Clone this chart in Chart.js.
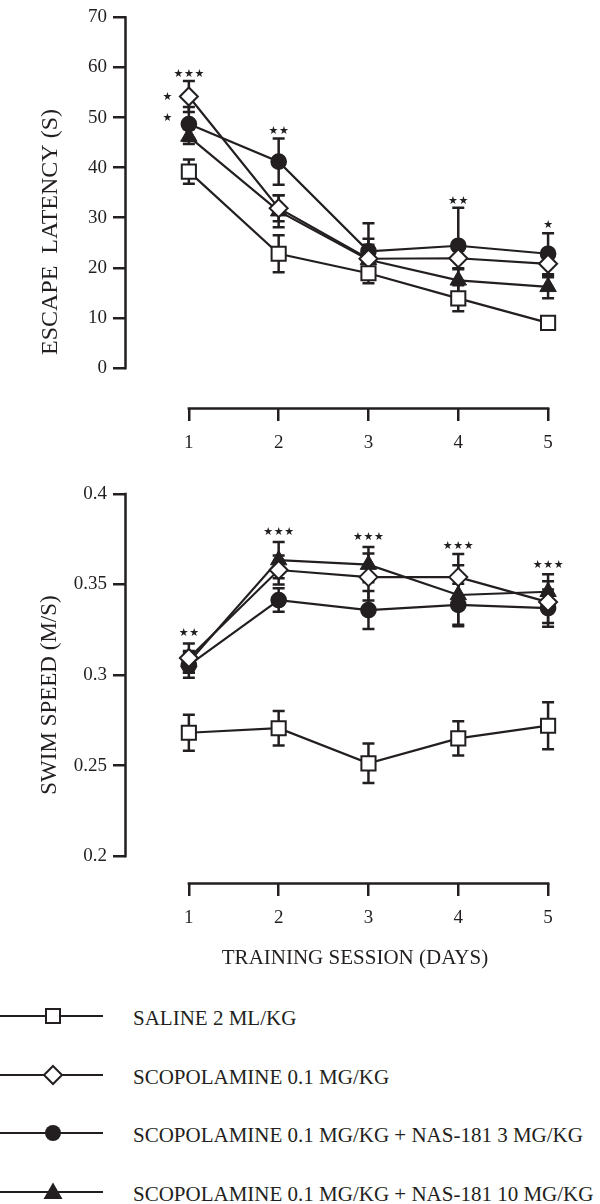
<!DOCTYPE html>
<html><head><meta charset="utf-8">
<script src="https://cdn.jsdelivr.net/npm/chart.js@4.4.1/dist/chart.umd.min.js"></script>
<style>
html,body{margin:0;padding:0;background:#fff;}
#wrap{position:relative;width:600px;height:1204px;overflow:hidden;font-family:"Liberation Serif","Times New Roman",serif;color:#231f20;background:#fff;}
canvas{position:absolute;left:0;}
#c1{top:0;} #c2{top:470px;}
.lg{position:absolute;left:0;}
.lt{position:absolute;left:133px;font-size:21px;line-height:24px;white-space:nowrap;}
</style></head><body>
<div id="wrap">
<canvas id="c1" width="600" height="460"></canvas>
<canvas id="c2" width="600" height="520"></canvas>
<div id="legend"></div>
</div>
<script>
// ---------- data ----------
const days = [1, 2, 3, 4, 5];
const seriesNames = [
  'SALINE 2 ML/KG',
  'SCOPOLAMINE 0.1 MG/KG',
  'SCOPOLAMINE 0.1 MG/KG + NAS-181 3 MG/KG',
  'SCOPOLAMINE 0.1 MG/KG + NAS-181 10 MG/KG'
];
// Escape latency (s)
const latSaline   = [39.2, 22.8, 18.9, 13.9, 9.0];
const latSalineE  = [2.4, 3.7, 2.0, 2.6, 0.8];
const latScop     = [54.2, 31.9, 21.8, 21.9, 20.8];
const latScopE    = [3.1, 2.6, 4.0, 2.2, 2.7];
const latNas3     = [48.7, 41.2, 23.3, 24.4, 22.8];
const latNas3E    = [3.4, 4.6, 5.6, 7.6, 4.1];
const latNas10    = [46.2, 31.3, 21.6, 17.5, 16.2];
const latNas10E   = [1.5, 3.2, 3.0, 2.4, 2.3];
const latTicks    = [0, 10, 20, 30, 40, 50, 60, 70];
// Swim speed (m/s)
const spdSaline   = [0.2681, 0.2706, 0.2512, 0.2650, 0.2720];
const spdSalineE  = [0.0099, 0.0095, 0.0109, 0.0095, 0.0130];
const spdScop     = [0.3094, 0.3580, 0.3541, 0.3541, 0.3403];
const spdScopE    = [0.0080, 0.0080, 0.0130, 0.0127, 0.0115];
const spdNas3     = [0.3055, 0.3414, 0.3359, 0.3387, 0.3370];
const spdNas3E    = [0.0070, 0.0065, 0.0105, 0.0117, 0.0103];
const spdNas10    = [0.3072, 0.3635, 0.3610, 0.3442, 0.3460];
const spdNas10E   = [0.0060, 0.0100, 0.0097, 0.0165, 0.0096];
const spdTicks    = [0.2, 0.25, 0.3, 0.35, 0.4];
const spdTickLabels = ['0.2', '0.25', '0.3', '0.35', '0.4'];
// significance stars (position in data units, count)
const latStarX = [1, 0.76, 0.76, 2, 4, 5];
const latStarY = [58.6, 54.0, 49.9, 47.2, 33.4, 28.5];
const latStarN = [3, 1, 1, 2, 2, 1];
const spdStarX = [1, 2, 3, 4, 5];
const spdStarY = [0.3234, 0.3788, 0.3760, 0.3714, 0.3608];
const spdStarN = [2, 3, 3, 3, 3];

// ---------- styling ----------
const INK = '#231f20';
const SERIF = '"Liberation Serif", "Times New Roman", serif';
const styles = [
  {pointStyle: 'rect',     pointRadius: 10,  pointBackgroundColor: '#fff', pointBorderWidth: 2},
  {pointStyle: 'rectRot',  pointRadius: 9,   pointBackgroundColor: '#fff', pointBorderWidth: 2},
  {pointStyle: 'circle',   pointRadius: 7.6, pointBackgroundColor: INK,    pointBorderWidth: 1.5},
  {pointStyle: 'triangle', pointRadius: 9.5, pointBackgroundColor: INK,    pointBorderWidth: 1}
];

function makeDatasets(vals, errs) {
  return vals.map((v, k) => Object.assign({
    label: seriesNames[k],
    data: days.map((d, i) => ({x: d, y: v[i]})),
    errors: errs[k],
    borderColor: INK,
    borderWidth: 2.2,
    pointBorderColor: INK,
    pointHoverRadius: 0,
    tension: 0,
    clip: false
  }, styles[k]));
}

// ---------- plugins ----------
const errorBars = {
  id: 'errorBars',
  beforeDatasetsDraw(chart) {
    const {ctx} = chart; const x = chart.scales.x, y = chart.scales.y;
    ctx.save();
    ctx.strokeStyle = INK; ctx.lineWidth = 2.5;
    chart.data.datasets.forEach(ds => {
      (ds.errors || []).forEach((e, i) => {
        const p = ds.data[i];
        const px = x.getPixelForValue(p.x);
        const yt = y.getPixelForValue(p.y + e), yb = y.getPixelForValue(p.y - e);
        ctx.beginPath();
        ctx.moveTo(px, yt); ctx.lineTo(px, yb);
        ctx.moveTo(px - 6, yt); ctx.lineTo(px + 6, yt);
        ctx.moveTo(px - 6, yb); ctx.lineTo(px + 6, yb);
        ctx.stroke();
      });
    });
    ctx.restore();
  }
};
const axisLines = {
  id: 'axisLines',
  afterDraw(chart) {
    const {ctx, chartArea} = chart; const x = chart.scales.x, y = chart.scales.y;
    ctx.save();
    ctx.strokeStyle = INK; ctx.lineWidth = 2.5;
    const yt = y.ticks, xt = x.ticks;
    const y0 = y.getPixelForValue(yt[0].value), y1 = y.getPixelForValue(yt[yt.length - 1].value);
    const x0 = x.getPixelForValue(xt[0].value), x1 = x.getPixelForValue(xt[xt.length - 1].value);
    ctx.beginPath();
    ctx.moveTo(chartArea.left - 0.5, y0 + 1.25); ctx.lineTo(chartArea.left - 0.5, y1 - 1.25);
    ctx.moveTo(x0 - 1.25, chartArea.bottom + 0.5); ctx.lineTo(x1 + 1.25, chartArea.bottom + 0.5);
    ctx.stroke();
    ctx.restore();
  }
};
const yTitle = {
  id: 'yTitle',
  afterDraw(chart, args, o) {
    const {ctx} = chart;
    ctx.save();
    ctx.fillStyle = INK;
    ctx.font = o.size + 'px ' + SERIF;
    ctx.textAlign = 'center'; ctx.textBaseline = 'alphabetic';
    ctx.translate(o.cx + 0.331 * o.size, o.cy);
    ctx.rotate(-Math.PI / 2);
    ctx.fillText(o.text, 0, 0);
    ctx.restore();
  }
};
const stars = {
  id: 'stars',
  afterDraw(chart, args, o) {
    const {ctx} = chart; const x = chart.scales.x, y = chart.scales.y;
    ctx.save();
    ctx.fillStyle = INK;
    ctx.font = '11px "DejaVu Sans"';
    ctx.textAlign = 'center'; ctx.textBaseline = 'middle';
    o.xs.forEach((xv, i) => {
      const px = x.getPixelForValue(xv), py = y.getPixelForValue(o.ys[i]);
      const n = o.ns[i];
      for (let k = 0; k < n; k++) ctx.fillText('\u2605', px + (k - (n - 1) / 2) * 10.5, py);
    });
    ctx.restore();
  }
};

function makeOptions(cfg) {
  return {
    responsive: false,
    animation: false,
    events: [],
    layout: {padding: {top: cfg.padTop, left: 0, right: 16, bottom: 0}},
    plugins: {
      legend: {display: false},
      tooltip: {enabled: false},
      yTitle: {text: cfg.yTitle, cx: cfg.titleX, cy: cfg.titleY, size: cfg.titleSize},
      stars: {xs: cfg.starX, ys: cfg.starY, ns: cfg.starN}
    },
    scales: {
      x: {
        type: 'linear', min: 0.3, max: 5.4,
        afterBuildTicks: s => { s.ticks = days.map(v => ({value: v})); },
        afterFit: s => { s.height = cfg.xHeight; },
        border: {display: false},
        grid: {drawOnChartArea: false, drawTicks: true, tickLength: 13, lineWidth: 2.5, color: INK, tickColor: INK},
        ticks: {color: INK, font: {family: SERIF, size: cfg.xTickSize}, padding: cfg.xTickPad, maxRotation: 0, autoSkip: false, callback: v => String(v)},
        title: cfg.xTitle ? {display: true, text: cfg.xTitle, color: INK, font: {family: SERIF, size: 21}, padding: {top: 0, bottom: cfg.xTitlePad}} : {display: false}
      },
      y: {
        type: 'linear', min: cfg.yMin, max: cfg.yMax,
        afterBuildTicks: s => { s.ticks = cfg.yTicks.map(v => ({value: v})); },
        afterFit: s => { s.width = 126; },
        border: {display: false},
        grid: {drawOnChartArea: false, drawTicks: true, tickLength: 13, lineWidth: 2.5, color: INK, tickColor: INK},
        ticks: {color: INK, font: {family: SERIF, size: 19}, padding: 6, autoSkip: false, callback: cfg.yLabel}
      }
    }
  };
}

new Chart(document.getElementById('c1'), {
  type: 'line',
  data: {datasets: makeDatasets([latSaline, latScop, latNas3, latNas10], [latSalineE, latScopE, latNas3E, latNas10E])},
  options: makeOptions({
    padTop: 12, xHeight: 52, xTickSize: 19, xTickPad: 11,
    yMin: -8, yMax: 70, yTicks: latTicks, yLabel: v => String(v),
    yTitle: 'ESCAPE  LATENCY (S)', titleX: 49.5, titleY: 232, titleSize: 24,
    starX: latStarX, starY: latStarY, starN: latStarN
  }),
  plugins: [errorBars, axisLines, yTitle, stars]
});

new Chart(document.getElementById('c2'), {
  type: 'line',
  data: {datasets: makeDatasets([spdSaline, spdScop, spdNas3, spdNas10], [spdSalineE, spdScopE, spdNas3E, spdNas10E])},
  options: makeOptions({
    padTop: 24, xHeight: 107, xTickSize: 19, xTickPad: 11, xTitle: 'TRAINING SESSION (DAYS)', xTitlePad: 19,
    yMin: 0.1851, yMax: 0.4, yTicks: spdTicks, yLabel: (v, i) => spdTickLabels[i],
    yTitle: 'SWIM SPEED (M/S)', titleX: 48.7, titleY: 225, titleSize: 23,
    starX: spdStarX, starY: spdStarY, starN: spdStarN
  }),
  plugins: [errorBars, axisLines, yTitle, stars]
});

// ---------- legend ----------
const legendRows = [1016, 1074.5, 1133, 1191.5];
const markerSvg = [
  '<rect x="46" y="13" width="14" height="14" fill="#fff" stroke="' + INK + '" stroke-width="2"/>',
  '<polygon points="53,11 62,20 53,29 44,20" fill="#fff" stroke="' + INK + '" stroke-width="2"/>',
  '<circle cx="53" cy="20" r="8" fill="' + INK + '"/>',
  '<polygon points="53,10.5 62.5,27 43.5,27" fill="' + INK + '"/>'
];
const lg = document.getElementById('legend');
seriesNames.forEach((name, k) => {
  const y = legendRows[k];
  const d = document.createElement('div');
  d.className = 'lg';
  d.style.top = (y - 20) + 'px';
  d.innerHTML = '<svg width="110" height="40" xmlns="http://www.w3.org/2000/svg">' +
    '<line x1="0" y1="20" x2="103" y2="20" stroke="' + INK + '" stroke-width="2.2"/>' + markerSvg[k] + '</svg>';
  lg.appendChild(d);
  const t = document.createElement('div');
  t.className = 'lt';
  t.style.top = (y + 2.5 - 12.3) + 'px';
  t.textContent = name;
  lg.appendChild(t);
});
</script>
</body></html>
